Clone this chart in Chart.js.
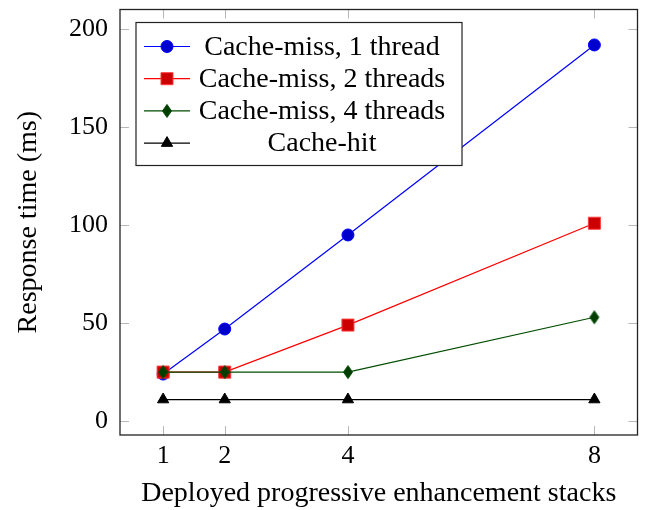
<!DOCTYPE html>
<html>
<head>
<meta charset="utf-8">
<script src="https://cdn.jsdelivr.net/npm/chart.js@4.4.1/dist/chart.umd.min.js"></script>
<style>
  html, body { margin: 0; padding: 0; background: #fff; }
  #wrap { width: 647px; height: 510px; }
</style>
</head>
<body>
<div id="wrap"><canvas id="chart" width="647" height="510"></canvas></div>
<script>
// data
const stacks = [1, 2, 4, 8];
const miss1 = [24, 47, 95, 192];
const miss2 = [25, 25, 49, 101];
const miss4 = [25, 25, 25, 53];
const hit = [11, 11, 11, 11];
const seriesNames = ['Cache-miss, 1 thread', 'Cache-miss, 2 threads', 'Cache-miss, 4 threads', 'Cache-hit'];
const yTicks = [0, 50, 100, 150, 200];

const FONT = '"Liberation Serif", "DejaVu Serif", serif';

function toPoints(vals) {
    return stacks.map((x, i) => ({ x: x, y: vals[i] }));
}

// taller-than-wide diamond like pgfplots
function diamondMark(fill, stroke) {
    const c = document.createElement('canvas');
    c.width = 12; c.height = 16;
    const g = c.getContext('2d');
    g.beginPath();
    g.moveTo(6, 1.5); g.lineTo(10.5, 8); g.lineTo(6, 14.5); g.lineTo(1.5, 8); g.closePath();
    g.fillStyle = fill; g.fill();
    g.strokeStyle = stroke; g.lineWidth = 1; g.stroke();
    return c;
}
const diamond = diamondMark('rgb(0,61,0)', 'rgb(0,77,0)');

const datasets = [
    { label: seriesNames[0], data: toPoints(miss1), borderColor: 'rgb(0,0,255)', backgroundColor: 'rgb(0,0,204)',
      pointBorderColor: 'rgb(0,0,255)', pointStyle: 'circle', pointRadius: 6 },
    { label: seriesNames[1], data: toPoints(miss2), borderColor: 'rgb(255,0,0)', backgroundColor: 'rgb(204,0,0)',
      pointBorderColor: 'rgb(255,60,60)', pointStyle: 'rect', pointRadius: 8.5 },
    { label: seriesNames[2], data: toPoints(miss4), borderColor: 'rgb(0,77,0)', backgroundColor: 'rgb(0,61,0)',
      pointStyle: diamond, pointRadius: 6 },
    { label: seriesNames[3], data: toPoints(hit), borderColor: 'rgb(0,0,0)', backgroundColor: 'rgb(0,0,0)',
      pointStyle: 'triangle', pointRadius: 6.5 }
];
datasets.forEach((d, i) => {
    d.borderWidth = 1.2;
    d.pointBorderWidth = 1;
    d.tension = 0;
    d.fill = false;
    d.order = datasets.length - i; // later series drawn on top, as in pgfplots
    if (!d.pointBorderColor) d.pointBorderColor = d.backgroundColor;
    d.pointBackgroundColor = d.backgroundColor;
});

// box + inner gray ticks on all four sides
const frame = {
    id: 'frame',
    afterDatasetsDraw(chart) {
        const { ctx, chartArea: a, scales } = chart;
        ctx.save();
        ctx.strokeStyle = '#b8b8b8';
        ctx.lineWidth = 1;
        const len = 9;
        ctx.beginPath();
        scales.x.ticks.forEach(t => {
            const px = Math.round(scales.x.getPixelForValue(t.value)) + 0.5;
            ctx.moveTo(px, a.bottom); ctx.lineTo(px, a.bottom - len);
            ctx.moveTo(px, a.top); ctx.lineTo(px, a.top + len);
        });
        scales.y.ticks.forEach(t => {
            const py = Math.round(scales.y.getPixelForValue(t.value)) + 0.5;
            ctx.moveTo(a.left, py); ctx.lineTo(a.left + len, py);
            ctx.moveTo(a.right, py); ctx.lineTo(a.right - len, py);
        });
        ctx.stroke();
        ctx.strokeStyle = '#222';
        ctx.lineWidth = 1.3;
        ctx.strokeRect(a.left, a.top, a.right - a.left, a.bottom - a.top);
        ctx.restore();
    }
};

// legend box drawn inside the plot, top-left
const boxLegend = {
    id: 'boxLegend',
    afterDraw(chart) {
        const { ctx, chartArea: a } = chart;
        const x0 = a.left + 16, y0 = a.top + 13, w = 326, h = 143;
        ctx.save();
        ctx.fillStyle = '#fff';
        ctx.fillRect(x0, y0, w, h);
        ctx.strokeStyle = '#222';
        ctx.lineWidth = 1.2;
        ctx.strokeRect(x0, y0, w, h);
        ctx.font = '28px ' + FONT;
        ctx.textAlign = 'center';
        ctx.textBaseline = 'middle';
        chart.data.datasets.forEach((d, i) => {
            const yy = y0 + 24 + i * 32.2;
            ctx.strokeStyle = d.borderColor;
            ctx.lineWidth = 1.2;
            ctx.beginPath();
            ctx.moveTo(x0 + 8, yy); ctx.lineTo(x0 + 54, yy);
            ctx.stroke();
            ctx.fillStyle = d.pointBackgroundColor;
            ctx.strokeStyle = d.pointBorderColor;
            ctx.lineWidth = 1;
            Chart.helpers.drawPoint(ctx, {
                pointStyle: d.pointStyle, radius: d.pointRadius, borderWidth: 1, rotation: 0
            }, x0 + 31, yy);
            ctx.fillStyle = '#000';
            ctx.fillText(d.label, x0 + 186, yy + 1);
        });
        ctx.restore();
    }
};

function noPad(s) {
    s.paddingTop = 0; s.paddingBottom = 0; s.paddingLeft = 0; s.paddingRight = 0;
}

new Chart(document.getElementById('chart'), {
    type: 'line',
    data: { datasets: datasets },
    options: {
        responsive: false,
        animation: false,
        layout: { padding: { left: 0, right: 9, top: 4, bottom: 0 } },
        plugins: { legend: { display: false }, tooltip: { enabled: false } },
        scales: {
            x: {
                type: 'linear', min: 0.3, max: 8.7,
                afterBuildTicks: s => { s.ticks = stacks.map(v => ({ value: v })); },
                afterFit: s => { s.height = 75; noPad(s); },
                grid: { display: false, drawTicks: false, tickLength: 0 },
                border: { display: false },
                ticks: { color: '#000', font: { family: FONT, size: 26 }, padding: 6, maxRotation: 0 },
                title: { display: true, text: 'Deployed progressive enhancement stacks', color: '#000',
                         font: { family: FONT, size: 28 }, padding: { top: 8, bottom: 0 } }
            },
            y: {
                min: -7.1, max: 210.1,
                afterBuildTicks: s => { s.ticks = yTicks.map(v => ({ value: v })); },
                afterFit: s => { s.width = 120; noPad(s); },
                grid: { display: false, drawTicks: false, tickLength: 0 },
                border: { display: false },
                ticks: { color: '#000', font: { family: FONT, size: 26 }, padding: 12 },
                title: { display: true, text: 'Response time (ms)', color: '#000',
                         font: { family: FONT, size: 28 }, padding: { top: 12, bottom: 6 } }
            }
        }
    },
    plugins: [frame, boxLegend]
});
</script>
</body>
</html>
